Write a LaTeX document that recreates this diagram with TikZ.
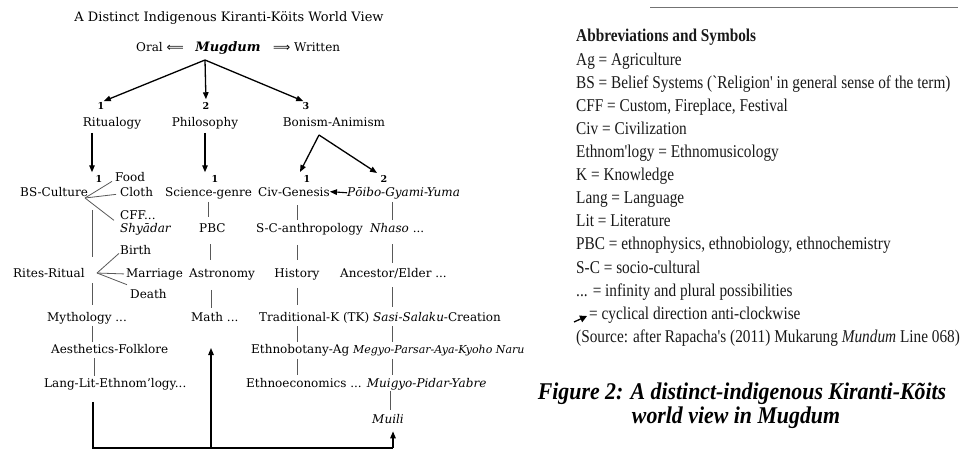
\documentclass[tikz,border=0pt]{standalone}
\usepackage{fontspec}
\setmainfont{DejaVu Serif}
\newfontfamily\symfont{DejaVu Sans}
\newfontfamily\listfont[FakeStretch=0.85]{Liberation Serif}
\newfontfamily\capfont[FakeStretch=0.91]{Liberation Serif}
\usetikzlibrary{arrows.meta}
\begin{document}
\begin{tikzpicture}[x=1pt,y=-1pt,
  tx/.style={inner sep=0pt, anchor=base west, font=\fontsize{12}{14}\selectfont, text=black},
  txc/.style={tx, anchor=base},
  num/.style={inner sep=0pt, anchor=base, font=\fontsize{9.5}{10}\selectfont\bfseries, text=black},
  arr/.style={-{Triangle[length=7pt,width=5.5pt]}, line width=1.3pt},
  ln/.style={line width=0.8pt, black!65},
  loopln/.style={line width=1.2pt, black},
  lst/.style={inner sep=0pt, anchor=base west, font=\listfont\fontsize{18}{20}\selectfont, text=black!90},
  capt/.style={inner sep=0pt, anchor=base, font=\capfont\fontsize{24}{26}\selectfont\bfseries\itshape}]
\useasboundingbox (0,0) rectangle (960,453);

% ---------- left diagram ----------
\node[txc, font=\fontsize{13}{15}\selectfont] (title) at (229,21) {A Distinct Indigenous Kiranti-Köits World View};
\node[txc, font=\fontsize{13}{15}\selectfont] (mug) at (228,51) {\textbf{\textit{Mugdum}}};
\node[tx, anchor=base east] (oral) at (184,51) {Oral {\symfont ⟸}};
\node[tx] (written) at (273,51) {{\symfont ⟹} Written};

\node[num] (n1) at (101,109.5) {1};
\node[num] (n2) at (206,109.5) {2};
\node[num] (n3) at (306,109.5) {3};
\node[txc] (ritual) at (112,126) {Ritualogy};
\node[txc] (philo) at (205,126) {Philosophy};
\node[txc] (bonism) at (334,126) {Bonism-Animism};

\node[num] (nb1) at (99,182.5) {1};
\node[num] (nb2) at (215,182.5) {1};
\node[num] (nb3) at (307,182.5) {1};
\node[num] (nb4) at (384,182.5) {2};
\node[tx] (food) at (115,181) {Food};

\node[tx] (bs) at (20,196) {BS-Culture};
\node[tx] (cloth) at (120,196) {Cloth};
\node[tx] (sci) at (165,196) {Science-genre};
\node[tx] (civ) at (258,196) {Civ-Genesis};
\node[tx] (poibo) at (347,196) {\textit{Pōibo-Gyami-Yuma}};

\node[tx] (cff) at (120,219) {CFF...};
\node[tx] (shy) at (120,232) {\textit{Shyādar}};
\node[tx] (pbc) at (199,232) {PBC};
\node[tx, anchor=base east] (sca) at (363,232) {S-C-anthropology};
\node[tx] (nhaso) at (370,232) {\textit{Nhaso} ...};

\node[tx] (birth) at (120,254) {Birth};
\node[tx] (rites) at (13,277) {Rites-Ritual};
\node[tx] (marriage) at (126,277) {Marriage};
\node[tx] (astro) at (189,277) {Astronomy};
\node[txc] (hist) at (297,277) {History};
\node[tx] (anc) at (340,277) {Ancestor/Elder ...};
\node[tx] (death) at (130,298) {Death};

\node[tx] (myth) at (47,321) {Mythology ...};
\node[tx] (math) at (191,321) {Math ...};
\node[tx] (trad) at (259,321) {Traditional-K (TK) \textit{Sasi-Salaku}-Creation};

\node[tx] (aes) at (51,353) {Aesthetics-Folklore};
\node[tx] (ethb) at (251,353) {Ethnobotany-Ag {\fontsize{11}{13}\selectfont\textit{Megyo-Parsar-Aya-Kyoho Naru}}};

\node[tx] (lang) at (44,387) {Lang-Lit-Ethnom'logy...};
\node[tx] (ethe) at (246,387) {Ethnoeconomics ... \textit{Muigyo-Pidar-Yabre}};

\node[txc] (muili) at (388,423) {\textit{Muili}};

% columns and fixed points
\coordinate (colA) at (92,0);
\coordinate (colA2) at (94,0);
\coordinate (colB1) at (208,0);
\coordinate (colB2) at (210,0);
\coordinate (colB3) at (211,0);
\coordinate (colC) at (297,0);
\coordinate (colD) at (392,0);
\coordinate (colD2) at (390,0);
\coordinate (mapex) at (205,60);
\coordinate (bapex) at (319,135);
\coordinate (b1tip) at (300,172);
\coordinate (b2tip) at (377,173);
\coordinate (bsb) at (85,198);
\coordinate (rtb) at (97,273);
\coordinate (bl) at (93,448);
\coordinate (br) at (393,448);
\coordinate (upb) at (211,448);
\coordinate (uptip) at (211,348);

% main arrows
\draw[arr, shorten >=3pt] (mapex) -- (n1.north);
\draw[arr, shorten >=3pt] (mapex) -- (n2.north);
\draw[arr, shorten >=3pt] (mapex) -- (n3.north);
\draw[arr, shorten <=4pt, shorten >=3pt] (colA |- ritual.south) -- (colA |- nb1.north);
\draw[arr, shorten <=4pt, shorten >=3pt] (philo.south) -- (philo.south |- nb2.north);
\draw[arr] (bapex) -- (b1tip);
\draw[arr] (bapex) -- (b2tip);
\draw[arr, line width=1.1pt] (poibo.west) -- (civ.east);

% branches
\draw[ln] (bsb) -- ([xshift=-3pt]food.south west);
\draw[ln] (bsb) -- ([xshift=-4pt,yshift=2pt]cloth.south west);
\draw[ln] (bsb) -- ([xshift=-6pt,yshift=-1pt]cff.south west);
\draw[ln] (rtb) -- ([xshift=-1pt,yshift=1pt]birth.south west);
\draw[ln] (rtb) -- ([xshift=-2pt]marriage.west);
\draw[ln] (rtb) -- ([xshift=-3pt,yshift=4pt]death.north west);

% column A
\draw[ln, shorten <=14pt, shorten >=11pt] (colA |- bs.south) -- (colA |- rites.north);
\draw[ln, shorten <=6pt, shorten >=7pt] (colA |- rites.south) -- (colA |- myth.north);
\draw[ln, shorten <=2pt, shorten >=2pt] (colA |- myth.south) -- (colA |- aes.north);
\draw[ln, shorten <=5pt, shorten >=2pt] (colA2 |- aes.south) -- (colA2 |- lang.north);
% column B
\draw[ln, shorten <=3pt, shorten >=6pt] (colB1 |- sci.south) -- (colB1 |- pbc.north);
\draw[ln, shorten <=12pt, shorten >=8pt] (colB2 |- pbc.south) -- (colB2 |- astro.north);
\draw[ln, shorten <=10pt, shorten >=4pt] (colB3 |- astro.south) -- (colB3 |- math.north);
% column C
\draw[ln, shorten <=9pt, shorten >=3pt] (colC |- civ.south) -- (colC |- sca.north);
\draw[ln, shorten <=10pt, shorten >=8pt] (colC |- sca.south) -- (colC |- hist.north);
\draw[ln, shorten <=8pt, shorten >=7pt] (colC |- hist.south) -- (colC |- trad.north);
\draw[ln, shorten <=3pt, shorten >=2pt] (colC |- trad.south) -- (colC |- ethb.north);
\draw[ln, shorten <=3pt, shorten >=3pt] (colC |- ethb.south) -- (colC |- ethe.north);
% column D
\draw[ln, shorten <=3pt, shorten >=3pt] (colD |- poibo.south) -- (colD |- nhaso.north);
\draw[ln, shorten <=12pt, shorten >=5pt] (colD |- nhaso.south) -- (colD |- anc.north);
\draw[ln, shorten <=9pt, shorten >=5pt] (colD |- anc.south) -- (colD |- trad.north);
\draw[ln, shorten <=3pt, shorten >=2pt] (colD |- trad.south) -- (colD |- ethb.north);
\draw[ln, shorten <=3pt, shorten >=3pt] (colD |- ethb.south) -- (colD |- ethe.north);
\draw[ln, shorten <=1pt, shorten >=4pt] (colD2 |- ethe.south) -- (colD2 |- muili.north);

% cyclical loop
\draw[loopln, shorten <=12pt] (bl |- lang.south) -- (bl) -- (br);
\draw[arr, line width=1.2pt] (upb) -- (uptip);
\draw[arr, line width=1.2pt, shorten >=8pt] (br) -- (br |- muili.south);

% ---------- right legend ----------
\coordinate (rl0) at (650,7);
\coordinate (rl1) at (958,7);
\draw[line width=0.9pt, black!55] (rl0) -- (rl1);

\node[lst, font=\listfont\fontsize{18}{20}\selectfont\bfseries] (hd) at (576,41.5) {Abbreviations and Symbols};
\node[lst] (l1) at (576,65) {Ag = Agriculture};
\node[lst] (l2) at (576,88) {BS = Belief Systems (`Religion' in general sense of the term)};
\node[lst] (l3) at (576,111) {CFF = Custom, Fireplace, Festival};
\node[lst] (l4) at (576,134.5) {Civ = Civilization};
\node[lst] (l5) at (576,157.5) {Ethnom'logy = Ethnomusicology};
\node[lst] (l6) at (576,180.5) {K = Knowledge};
\node[lst] (l7) at (576,203.5) {Lang = Language};
\node[lst] (l8) at (576,226.5) {Lit = Literature};
\node[lst] (l9) at (576,249.5) {PBC = ethnophysics, ethnobiology, ethnochemistry};
\node[lst] (l10) at (576,273) {S-C = socio-cultural};
\node[lst] (l11) at (576,296) {... = infinity and plural possibilities};
\node[lst] (l12) at (589,319) {= cyclical direction anti-clockwise};
\node[lst] (l13) at (576,342) {(Source: after Rapacha's (2011) Mukarung \textit{Mundum} Line 068)};
\coordinate (s0) at (574,322);
\coordinate (s1) at (587,316);
\draw[-{Triangle[length=7pt,width=7pt]}, line width=1.3pt] (s0) -- (s1);

\node[capt] (cap1) at (742,399) {Figure 2: A distinct-indigenous Kiranti-Kõits};
\node[capt] (cap2) at (736,423) {world view in Mugdum};
\end{tikzpicture}
\end{document}
